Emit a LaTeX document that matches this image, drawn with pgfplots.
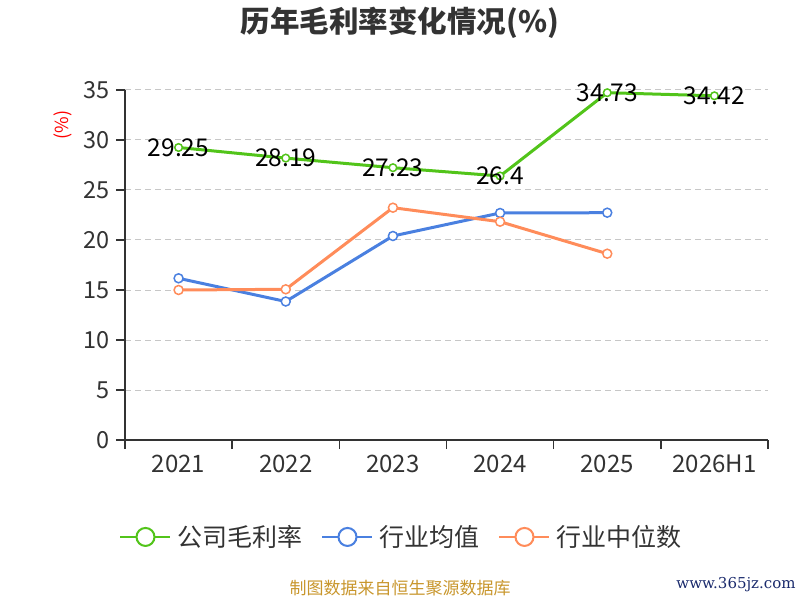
\documentclass[border=0pt]{standalone}
\usepackage{pgfplots}
\pgfplotsset{compat=1.18}
\usepackage{fontspec}
\setmainfont{Noto Sans CJK SC}
\newfontfamily\wwwfont{DejaVu Serif}
\definecolor{cgreen}{RGB}{82,196,26}
\definecolor{cblue}{RGB}{74,128,224}
\definecolor{corange}{RGB}{255,140,90}
\definecolor{ctext}{RGB}{51,51,51}
\definecolor{cgold}{RGB}{200,150,44}
\definecolor{cnavy}{RGB}{26,42,108}
\begin{document}
\begin{tikzpicture}
\useasboundingbox (0,0) rectangle (800pt,600pt);
\begin{axis}[
  at={(125pt,160pt)}, anchor=south west,
  scale only axis, width=643pt, height=350pt,
  xmin=-0.5, xmax=5.5, ymin=0, ymax=35,
  axis x line*=bottom, axis y line*=left,
  axis line style={-, draw=ctext, line width=1.5pt},
  xtick={-0.5,0.5,...,5.5}, xticklabels={},
  extra x ticks={0,1,2,3,4,5},
  extra x tick labels={2021,2022,2023,2024,2025,2026H1},
  extra x tick style={major tick length=0pt},
  ytick={0,5,...,35},
  tick align=outside, major tick length=9pt,
  tick style={draw=ctext, line width=1.5pt},
  ymajorgrids,
  grid style={draw=black!22, dash pattern=on 6pt off 4pt, line width=1pt},
  /pgf/number format/assume math mode=true,
  yticklabel style={font=\fontsize{23.5}{23.5}\selectfont, text=ctext, xshift=-3pt},
  xticklabel style={font=\fontsize{24}{24}\selectfont, text=ctext, yshift=-12pt, anchor=base, yshift=-20pt},
  legend style={at={(0.5,-0.277)}, anchor=center, xshift=-43pt, draw=none, fill=none,
    legend columns=-1, font=\fontsize{25}{25}\selectfont, text=ctext,
    /tikz/every even column/.append style={column sep=13pt},
    nodes={inner xsep=6pt}},
  legend image code/.code={
    \draw[#1, mark=none, line width=2pt] (0pt,0pt) -- (50pt,0pt);
    \draw[#1, mark=none, line width=2pt, fill=white] (25pt,0pt) circle (9pt);
  },
]
\addplot[color=cgreen, line width=3pt, mark=*, mark size=3.8pt,
  mark options={fill=white, line width=1.5pt},
  nodes near coords, point meta=explicit symbolic,
  every node near coord/.append style={anchor=center, text=black, font=\fontsize{24.5}{24.5}\selectfont}]
  coordinates {(0,29.25)[29.25] (1,28.19)[28.19] (2,27.23)[27.23] (3,26.4)[26.4] (4,34.73)[34.73] (5,34.42)[34.42]};
\addlegendentry{公司毛利率}
\addplot[color=cblue, line width=3pt, mark=*, mark size=4.5pt,
  mark options={fill=white, line width=1.5pt}]
  coordinates {(0,16.17) (1,13.85) (2,20.4) (3,22.7) (4,22.73)};
\addlegendentry{行业均值}
\addplot[color=corange, line width=3pt, mark=*, mark size=4.5pt,
  mark options={fill=white, line width=1.5pt}]
  coordinates {(0,15.0) (1,15.07) (2,23.23) (3,21.83) (4,18.63)};
\addlegendentry{行业中位数}
\end{axis}
\node[font=\fontsize{29.5}{29.5}\selectfont\bfseries, text=ctext] at (400pt,577pt) {历年毛利率变化情况(\%)};
\node[rotate=90, text=red, font=\fontsize{18}{18}\selectfont] at (63pt,475pt) {(\%)};
\node[text=cgold, font=\fontsize{17}{17}\selectfont] at (400pt,12pt) {制图数据来自恒生聚源数据库};
\node[text=cnavy, font=\wwwfont\fontsize{15}{15}\selectfont] at (736pt,15pt) {www.365jz.com};
\end{tikzpicture}
\end{document}
